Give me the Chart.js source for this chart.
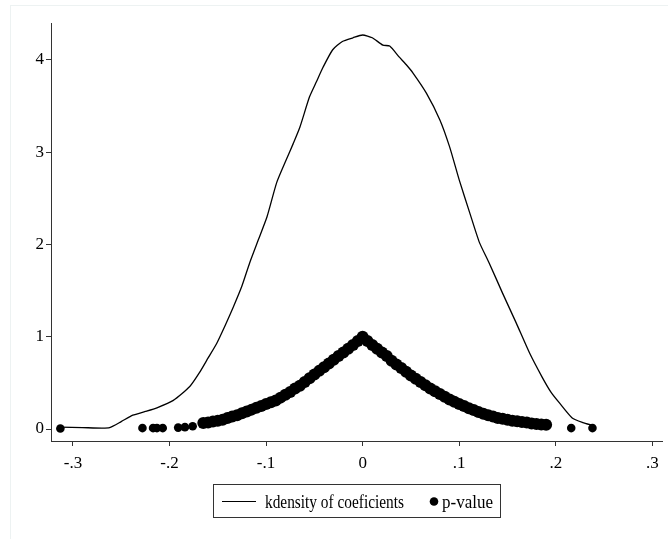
<!DOCTYPE html>
<html>
<head>
<meta charset="utf-8">
<script src="https://cdn.jsdelivr.net/npm/chart.js@4"></script>
<style>
  body { margin: 0; background: #fff; }
  #frame { position: absolute; left: 10px; top: 5px; width: 700px; height: 600px;
           border-left: 1px solid #edf2f2; border-top: 1px solid #edf2f2; }
  #kd { position: absolute; left: 0; top: 0; }
</style>
</head>
<body>
<div id="frame"></div>
<canvas id="kd" width="668" height="539"></canvas>
<script>
// kernel density of the coefficients
const kdX = [-0.313, -0.290, -0.270, -0.262, -0.250, -0.238, -0.225, -0.213, -0.196, -0.179,
  -0.169, -0.160, -0.151, -0.142, -0.134, -0.125, -0.117, -0.108, -0.099, -0.089,
  -0.079, -0.072, -0.065, -0.055, -0.048, -0.041, -0.031, -0.021, -0.010, 0.000,
  0.010, 0.021, 0.028, 0.038, 0.045, 0.052, 0.066, 0.080, 0.090, 0.100,
  0.111, 0.121, 0.131, 0.145, 0.159, 0.173, 0.186, 0.195, 0.204, 0.217,
  0.228, 0.238];
const kdY = [0.02, 0.015, 0.01, 0.015, 0.08, 0.15, 0.19, 0.23, 0.31, 0.46,
  0.61, 0.77, 0.93, 1.13, 1.32, 1.55, 1.80, 2.05, 2.30, 2.67,
  2.92, 3.09, 3.27, 3.60, 3.76, 3.92, 4.11, 4.20, 4.24, 4.27,
  4.24, 4.16, 4.15, 4.03, 3.95, 3.86, 3.64, 3.35, 3.06, 2.70,
  2.34, 2.02, 1.80, 1.47, 1.15, 0.82, 0.56, 0.40, 0.28, 0.12,
  0.07, 0.04];

// p-values: the scattered tail dots
const tailX = [-0.313, -0.228, -0.217, -0.213, -0.207, -0.191, -0.184, -0.176, 0.216, 0.238];
const tailY = [0.005, 0.01, 0.01, 0.01, 0.01, 0.015, 0.02, 0.03, 0.01, 0.01];

// p-values: the dense band
const bandX = [-0.165, -0.160, -0.155, -0.150, -0.145, -0.140, -0.135, -0.130, -0.125, -0.120,
  -0.115, -0.110, -0.105, -0.100, -0.095, -0.090, -0.085, -0.080, -0.075, -0.070,
  -0.065, -0.060, -0.055, -0.050, -0.045, -0.040, -0.035, -0.030, -0.025, -0.020,
  -0.015, -0.010, -0.005, 0.000, 0.005, 0.010, 0.015, 0.020, 0.025, 0.030,
  0.035, 0.040, 0.045, 0.050, 0.055, 0.060, 0.065, 0.070, 0.075, 0.080,
  0.085, 0.090, 0.095, 0.100, 0.105, 0.110, 0.115, 0.120, 0.125, 0.130,
  0.135, 0.140, 0.145, 0.150, 0.155, 0.160, 0.165, 0.170, 0.175, 0.180,
  0.185, 0.190];
const bandY = [0.065, 0.07, 0.08, 0.09, 0.10, 0.12, 0.135, 0.15, 0.17, 0.19,
  0.21, 0.23, 0.25, 0.27, 0.29, 0.31, 0.34, 0.37, 0.40, 0.44,
  0.47, 0.51, 0.55, 0.59, 0.63, 0.67, 0.71, 0.75, 0.79, 0.83,
  0.87, 0.91, 0.955, 1.0, 0.955, 0.91, 0.87, 0.83, 0.79, 0.74,
  0.70, 0.66, 0.62, 0.58, 0.545, 0.51, 0.475, 0.44, 0.41, 0.38,
  0.35, 0.32, 0.295, 0.27, 0.25, 0.225, 0.205, 0.185, 0.165, 0.15,
  0.135, 0.12, 0.11, 0.10, 0.09, 0.085, 0.075, 0.07, 0.06, 0.055,
  0.05, 0.045];

const xTickValues = [-0.3, -0.2, -0.1, 0, 0.1, 0.2, 0.3];
const xTickLabels = ["-.3", "-.2", "-.1", "0", ".1", ".2", ".3"];
const yTickValues = [0, 1, 2, 3, 4];
const yTickLabels = ["0", "1", "2", "3", "4"];

const FONT = "'Liberation Serif', 'Times New Roman', serif";

const kdPoints = kdX.map((x, i) => ({ x: x, y: kdY[i] }));
const pPoints = tailX.map((x, i) => ({ x: x, y: tailY[i] }))
  .concat(bandX.map((x, i) => ({ x: x, y: bandY[i] })));

// text in the original is a bit narrow, so squeeze it to the width it had
const squeezedText = (ctx, text, x, y, width) => {
  const w = ctx.measureText(text).width;
  ctx.save();
  ctx.translate(x, y);
  ctx.scale(width / w, 1);
  ctx.fillText(text, 0, 0);
  ctx.restore();
};

// legend in a box under the plot, drawn by hand to match the original
const boxLegend = {
  id: "boxLegend",
  afterDraw(chart) {
    const ctx = chart.ctx;
    ctx.save();
    ctx.strokeStyle = "#333";
    ctx.lineWidth = 1;
    ctx.strokeRect(213.5, 484.5, 287, 33);
    ctx.strokeStyle = "#000";
    ctx.lineWidth = 1.2;
    ctx.beginPath();
    ctx.moveTo(222, 501.5);
    ctx.lineTo(256, 501.5);
    ctx.stroke();
    ctx.fillStyle = "#000";
    ctx.font = "18px " + FONT;
    ctx.textBaseline = "alphabetic";
    squeezedText(ctx, chart.data.datasets[0].label, 265, 508, 139);
    ctx.beginPath();
    ctx.arc(434, 501.5, 4.3, 0, Math.PI * 2);
    ctx.fill();
    squeezedText(ctx, chart.data.datasets[1].label, 442, 508, 51);
    ctx.restore();
  }
};

new Chart(document.getElementById("kd"), {
  type: "scatter",
  data: {
    datasets: [
      {
        label: "kdensity of coeficients",
        data: kdPoints,
        showLine: true,
        pointRadius: 0,
        borderColor: "#000",
        borderWidth: 1.3,
        tension: 0.2,
      },
      {
        label: "p-value",
        data: pPoints,
        pointRadius: (c) => (c.dataIndex < tailX.length ? 4.3 : 6),
        pointBackgroundColor: "#000",
        pointBorderWidth: 0,
        showLine: false,
      },
    ],
  },
  plugins: [boxLegend],
  options: {
    responsive: false,
    animation: false,
    layout: { padding: { left: 0, top: 23, right: 5, bottom: 0 } },
    scales: {
      x: {
        type: "linear",
        min: -0.3227,
        max: 0.310,
        afterBuildTicks: (s) => { s.ticks = xTickValues.map((v) => ({ value: v })); },
        afterFit: (s) => { s.height = 98; },
        ticks: {
          callback: (v, i) => xTickLabels[i],
          color: "#000",
          font: { family: FONT, size: 17 },
          padding: 7,
          maxRotation: 0,
        },
        grid: { display: true, drawOnChartArea: false, drawTicks: true, tickLength: 5, color: "#333" },
        border: { display: true, color: "#333", width: 1 },
      },
      y: {
        type: "linear",
        min: -0.13,
        max: 4.40,
        afterBuildTicks: (s) => { s.ticks = yTickValues.map((v) => ({ value: v })); },
        afterFit: (s) => { s.width = 51; },
        ticks: {
          callback: (v, i) => yTickLabels[i],
          color: "#000",
          font: { family: FONT, size: 17 },
          padding: 2,
        },
        grid: { display: true, drawOnChartArea: false, drawTicks: true, tickLength: 5, color: "#333" },
        border: { display: true, color: "#333", width: 1 },
      },
    },
    plugins: {
      legend: { display: false },
      tooltip: { enabled: false },
    },
  },
});
</script>
</body>
</html>
